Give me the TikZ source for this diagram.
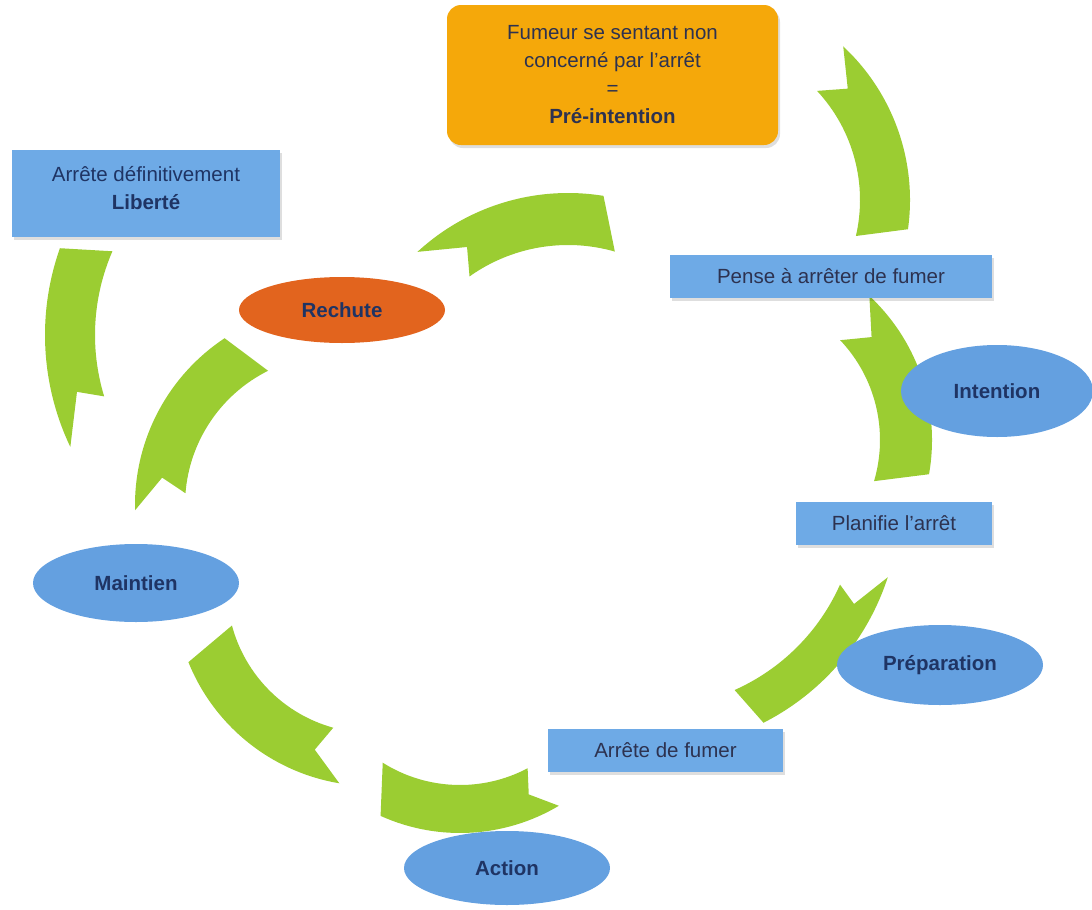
\documentclass[tikz,border=0pt]{standalone}
\usepackage{fontspec}
\setmainfont{Liberation Sans}
\usetikzlibrary{shapes.geometric,shadows}
\definecolor{agreen}{RGB}{155,205,50}
\definecolor{eblue}{RGB}{100,160,224}
\definecolor{bblue}{RGB}{110,170,230}
\definecolor{porange}{RGB}{245,168,10}
\definecolor{rorange}{RGB}{226,100,30}
\definecolor{navy}{RGB}{31,52,100}
\definecolor{dtext}{RGB}{45,50,80}
\newcommand{\garrow}[9]{%
  \pgfmathsetmacro{\garrowmid}{(#3+#4)/2}%
  \fill[agreen, shift={(#1,-#2)}] (#5:#4bp) arc[start angle=#5, end angle=#6, radius=#4bp]
    -- (#7:#3bp) arc[start angle=#7, end angle=#8, radius=#3bp]
    -- (#9:\garrowmid bp) -- cycle;}
\tikzset{
  txt/.style={font=\fontsize{20.5bp}{28bp}\selectfont, align=center, inner sep=0pt},
  boxsh/.style={drop shadow={shadow xshift=2bp, shadow yshift=-3bp, opacity=0.13, fill=black}},
  bbox/.style={txt, rectangle, fill=bblue, text=dtext, boxsh},
  ell/.style={txt, ellipse, fill=eblue, text=navy, font=\fontsize{20.5bp}{28bp}\selectfont\bfseries},
}
\begin{document}
\begin{tikzpicture}[x=1bp,y=1bp]
\useasboundingbox (0,0) rectangle (1092,-910);
% green curved arrows
\garrow{700}{200}{160}{210}{47}{-8}{-13}{43}{37}
\garrow{735}{440}{145}{197}{47}{-10}{-16.5}{43.5}{37}
\garrow{650}{500}{208}{250}{-18}{-63}{-66}{-24}{-27}
\garrow{460}{640}{145}{193}{300.8}{245.7}{237.8}{297.8}{294}
\garrow{372}{588}{145}{198}{260.5}{202}{195}{254.5}{250.5}
\garrow{335}{505}{150}{200}{181.5}{123.5}{116.5}{175.5}{171}
\garrow{305}{335}{210}{260}{205.5}{160.5}{156.5}{197}{194}
\garrow{568}{415}{170}{222}{132.7}{80.8}{74}{125.4}{121}
% nodes
\node[txt, rectangle, rounded corners=14bp, fill=porange, text=dtext, boxsh,
      minimum width=331bp, minimum height=140bp] (pre) at (612.5,-75)
      {Fumeur se sentant non\\concerné par l'arrêt\\=\\\textbf{Pré-intention}};
\node[bbox, minimum width=268bp, minimum height=87bp, text=navy] (lib) at (146,-193.5) {};
\node[txt, text=navy] (libt) at (146,-188) {Arrête définitivement\\\textbf{Liberté}};
\node[bbox, minimum width=322bp, minimum height=43bp] (pense) at (831,-276.5) {Pense à arrêter de fumer};
\node[ell, minimum width=192bp, minimum height=92bp] (intention) at (997,-391) {Intention};
\node[bbox, minimum width=196bp, minimum height=43bp] (planifie) at (894,-523.5) {Planifie l'arrêt};
\node[ell, minimum width=206bp, minimum height=80bp] (prep) at (940,-665) {Préparation};
\node[bbox, minimum width=235bp, minimum height=43bp] (arrete) at (665.5,-750.5) {Arrête de fumer};
\node[ell, minimum width=206bp, minimum height=74bp] (action) at (507,-868) {Action};
\node[ell, minimum width=206bp, minimum height=78bp] (maintien) at (136,-583) {Maintien};
\node[ell, fill=rorange, minimum width=206bp, minimum height=66bp] (rechute) at (342,-310) {Rechute};
\end{tikzpicture}
\end{document}
